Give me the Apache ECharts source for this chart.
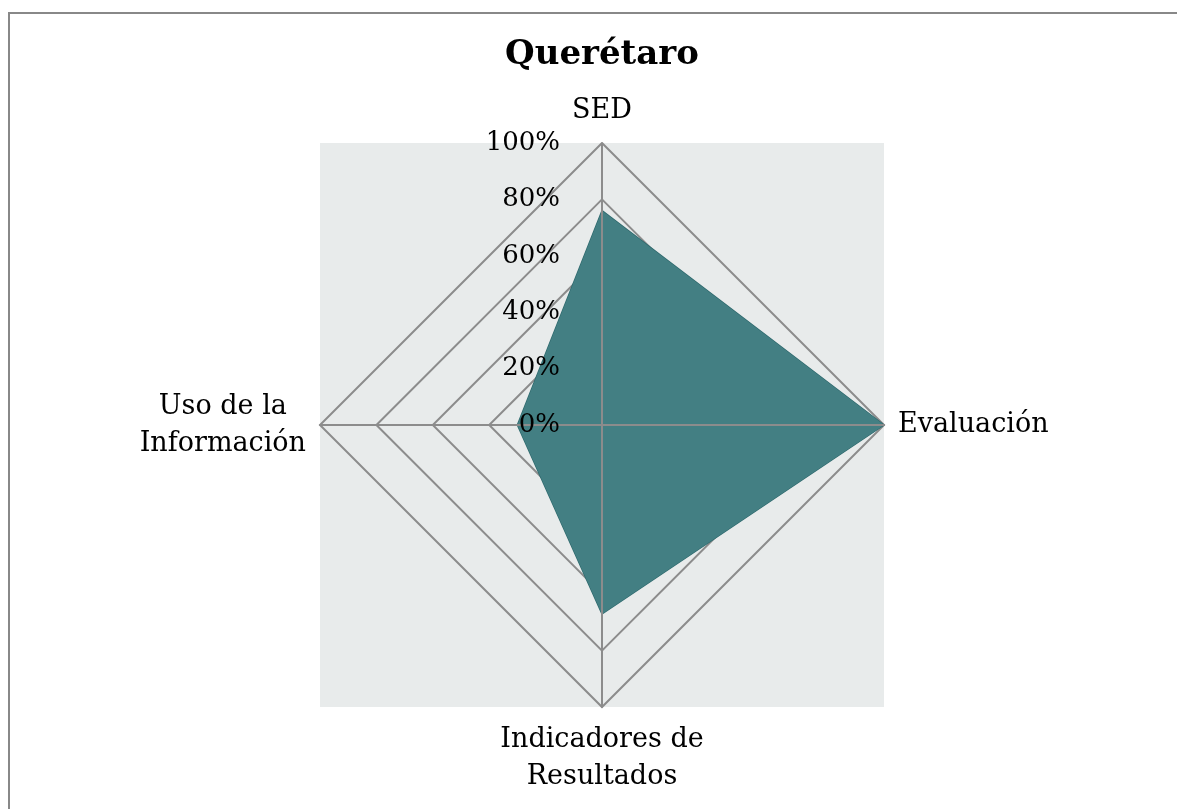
<!DOCTYPE html>
<html>
<head>
<meta charset="utf-8">
<script src="https://cdn.jsdelivr.net/npm/echarts@6/dist/echarts.min.js"></script>
<style>
    html, body { margin: 0; padding: 0; background: #fff; }
    #chart { width: 1177px; height: 809px; }
</style>
</head>
<body>
<div id="chart"></div>
<script>
// indicators go counter-clockwise from the top in echarts radar
const indicatorNames = ['SED', 'Uso de la\nInformación', 'Indicadores de\nResultados', 'Evaluación'];
const indicatorMax = [100, 100, 100, 100];
const queretaro = [76, 30, 67, 100];

const cx = 602;
const cy = 425;
const radius = 282;
const serif = '"DejaVu Serif", Georgia, serif';
const gridColor = '#8c8c8c';

function buildIndicators(withLabel) {
    return indicatorNames.map((name, i) => {
        const ind = { name: name, min: 0, max: indicatorMax[i] };
        if (withLabel && i === 0) {
            ind.axisLabel = { show: true };
        }
        return ind;
    });
}

const chart = echarts.init(document.getElementById('chart'));

chart.setOption({
    backgroundColor: '#fff',
    title: {
        text: 'Querétaro',
        left: 597,
        top: 33,
        textAlign: 'center',
        textStyle: {
            fontFamily: serif,
            fontSize: 34,
            fontWeight: 'bold',
            color: '#000'
        }
    },
    graphic: [
        {
            type: 'rect',
            z: -10,
            silent: true,
            shape: { x: 9, y: 13, width: 1400, height: 1000 },
            style: { fill: null, stroke: '#888', lineWidth: 2 }
        },
        {
            type: 'rect',
            z: -5,
            silent: true,
            shape: { x: cx - radius, y: cy - radius, width: radius * 2, height: radius * 2 },
            style: { fill: '#e8ebeb' }
        }
    ],
    radar: [
        // rings and names, under the polygon
        {
            z: 0,
            center: [cx, cy],
            radius: radius,
            startAngle: 90,
            shape: 'polygon',
            splitNumber: 5,
            nameGap: 14,
            indicator: buildIndicators(false),
            axisName: {
                formatter: (name) => name.split('\n').map((l) => '{c|' + l + '}').join('\n'),
                rich: {
                    c: {
                        align: 'center',
                        fontFamily: serif,
                        fontSize: 27,
                        lineHeight: 37,
                        color: '#000'
                    }
                }
            },
            axisLine: { show: false },
            splitLine: {
                show: true,
                lineStyle: { color: gridColor, width: 2 }
            },
            splitArea: { show: false },
            axisTick: { show: false },
            axisLabel: { show: false }
        },
        // spokes and percent labels, over the polygon
        {
            z: 5,
            center: [cx, cy],
            radius: radius,
            startAngle: 90,
            shape: 'polygon',
            splitNumber: 5,
            indicator: buildIndicators(true),
            axisName: { show: false },
            axisLine: {
                show: true,
                lineStyle: { color: gridColor, width: 2 }
            },
            splitLine: { show: false },
            splitArea: { show: false },
            axisTick: { show: false },
            axisLabel: {
                show: false,
                margin: 42,
                formatter: '{value}%',
                fontFamily: serif,
                fontSize: 26,
                color: '#000'
            }
        }
    ],
    series: [
        {
            name: 'Querétaro',
            type: 'radar',
            radarIndex: 0,
            symbol: 'none',
            z: 2,
            lineStyle: { color: '#2f6a6e', width: 1.5 },
            areaStyle: { color: '#437f83', opacity: 1 },
            data: [{ value: queretaro, name: 'Querétaro' }]
        }
    ]
});
</script>
</body>
</html>
